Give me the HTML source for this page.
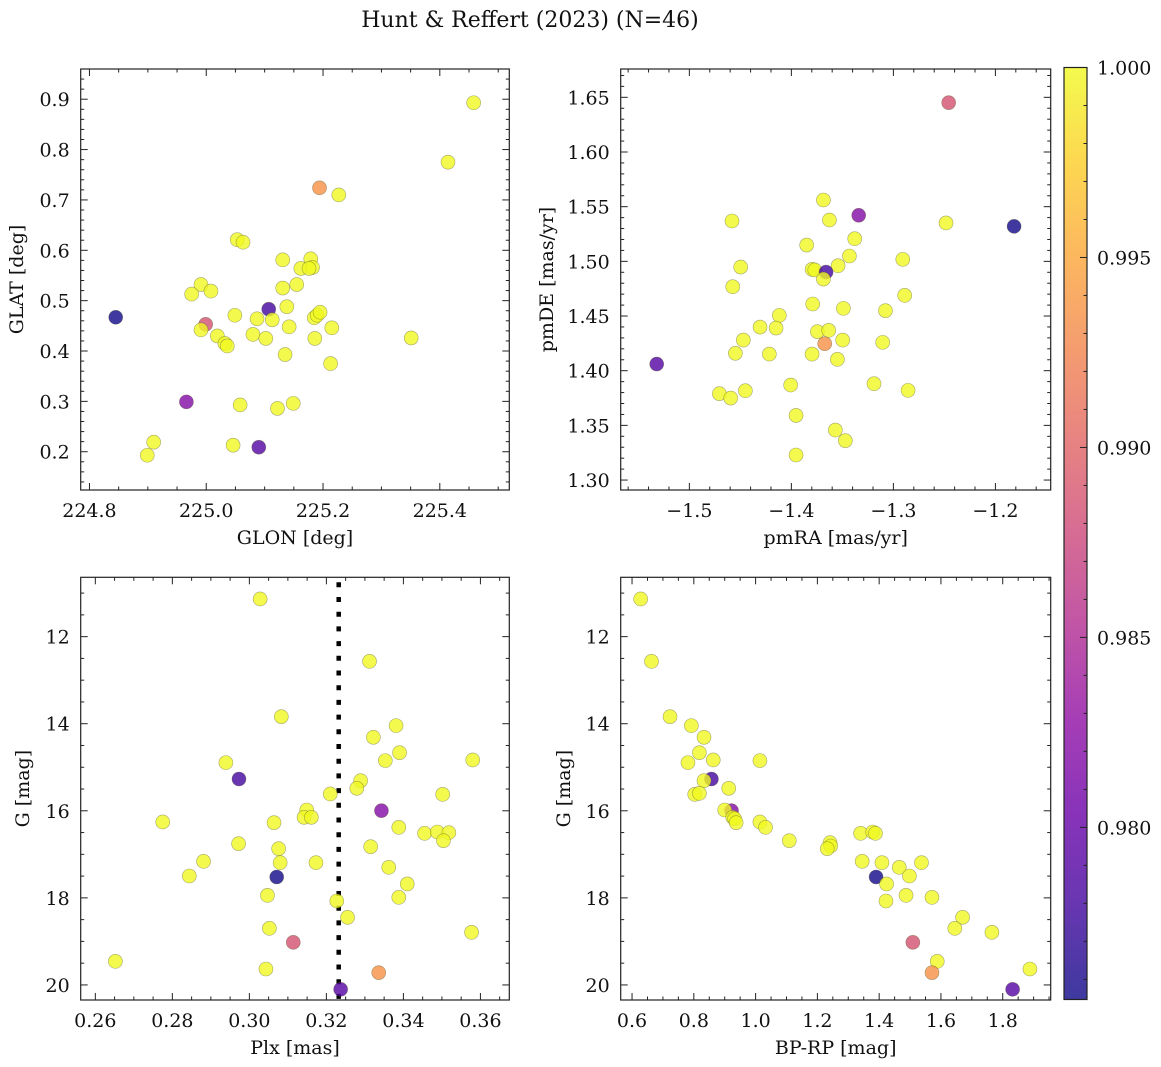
<!DOCTYPE html>
<html><head><meta charset="utf-8">
<style>
html,body{margin:0;padding:0;background:#fff;}
svg{display:block;font-family:"DejaVu Serif","Liberation Serif",serif;}
</style></head>
<body>
<svg id="fig" width="1161" height="1067" viewBox="0 0 1161 1067" xmlns="http://www.w3.org/2000/svg">
<rect width="1161" height="1067" fill="#fff"/>
<text x="530" y="27" font-size="22" text-anchor="middle" fill="#111">Hunt &amp; Reffert (2023) (N=46)</text>
</svg>
<script>
// ---------- data ----------
const glon = [225.458,225.414,225.194,225.227,225.053,225.063,225.131,225.179,225.162,225.182,225.176,224.991,224.975,225.008,225.131,225.155,224.845,225.107,225.138,224.999,225.049,225.087,225.113,225.185,225.190,225.195,224.991,225.019,225.032,225.036,225.080,225.102,225.142,225.186,225.215,225.351,225.135,225.213,224.966,225.058,225.122,225.149,224.910,224.899,225.046,225.090];
const glat = [0.893,0.775,0.724,0.710,0.621,0.616,0.581,0.583,0.564,0.566,0.564,0.532,0.513,0.519,0.525,0.532,0.467,0.483,0.488,0.453,0.471,0.464,0.462,0.466,0.471,0.477,0.442,0.430,0.415,0.410,0.433,0.425,0.448,0.425,0.446,0.426,0.393,0.375,0.299,0.293,0.286,0.296,0.219,0.193,0.213,0.209];
const probPos = [1,1,0.9935,1,1,1,1,1,1,1,1,1,1,1,1,1,0.9756,0.978,1,0.9885,1,1,1,1,1,1,1,1,1,1,1,1,1,1,1,1,1,1,0.982,1,1,1,1,1,1,0.979];

const pmra = [-1.2458,-1.3686,-1.4582,-1.3627,-1.3340,-1.2484,-1.1817,-1.3379,-1.3850,-1.3431,-1.2908,-1.4497,-1.3542,-1.3797,-1.3771,-1.3660,-1.3686,-1.4575,-1.2889,-1.3791,-1.3490,-1.3078,-1.4118,-1.4307,-1.4150,-1.3745,-1.3634,-1.4471,-1.3497,-1.3105,-1.3673,-1.4549,-1.4216,-1.3797,-1.3549,-1.5320,-1.4706,-1.4595,-1.4451,-1.4007,-1.3190,-1.2856,-1.3954,-1.3569,-1.3471,-1.3954];
const pmde = [1.6451,1.5561,1.5369,1.5378,1.5421,1.5351,1.5320,1.5207,1.5149,1.5049,1.5018,1.4948,1.4960,1.4927,1.4921,1.4902,1.4838,1.4768,1.4689,1.4610,1.4570,1.4549,1.4506,1.4399,1.4390,1.4357,1.4369,1.4280,1.4280,1.4259,1.4247,1.4159,1.4152,1.4152,1.4104,1.4061,1.3790,1.3750,1.3817,1.3869,1.3881,1.3820,1.3591,1.3457,1.3360,1.3229];
const probPm = [0.9885,1,1,1,0.982,1,0.9756,1,1,1,1,1,1,1,1,0.978,1,1,1,1,1,1,1,1,1,1,1,1,1,1,0.9935,1,1,1,1,0.979,1,1,1,1,1,1,1,1,1,1];

const plx = [0.3028,0.3312,0.3083,0.3381,0.3322,0.3390,0.2939,0.3353,0.3580,0.2973,0.3289,0.3279,0.3210,0.3502,0.3149,0.3142,0.3161,0.3343,0.2775,0.3064,0.3388,0.3455,0.3488,0.3518,0.3504,0.2972,0.3076,0.3315,0.2881,0.3080,0.3173,0.3362,0.2844,0.3071,0.3410,0.3047,0.3388,0.3227,0.3255,0.3052,0.3577,0.3114,0.2652,0.3043,0.3336,0.3237];
const gPlx = [11.135,12.567,13.838,14.044,14.312,14.665,14.894,14.848,14.833,15.270,15.308,15.484,15.614,15.622,15.982,16.150,16.150,15.997,16.257,16.273,16.380,16.518,16.487,16.502,16.686,16.755,16.870,16.824,17.161,17.191,17.191,17.299,17.498,17.521,17.681,17.942,17.988,18.072,18.447,18.700,18.792,19.021,19.458,19.634,19.718,20.101];
const probPlx = [1,1,1,1,1,1,1,1,1,0.978,1,1,1,1,1,1,1,0.982,1,1,1,1,1,1,1,1,1,1,1,1,1,1,1,0.9756,1,1,1,1,1,1,1,0.9885,1,1,0.9935,0.979];
const plxMean = [0.3232];

const bprp = [0.628,0.663,0.723,0.792,0.833,0.818,0.781,0.863,1.014,0.857,0.833,0.913,0.803,0.818,0.922,0.900,0.926,0.932,0.937,1.014,1.032,1.109,1.241,1.243,1.232,1.340,1.379,1.388,1.345,1.409,1.537,1.465,1.498,1.390,1.424,1.487,1.571,1.422,1.670,1.645,1.765,1.509,1.588,1.888,1.571,1.832];
const gCmd = [11.135,12.567,13.838,14.044,14.312,14.665,14.894,14.833,14.848,15.270,15.308,15.484,15.622,15.599,15.997,15.982,16.150,16.181,16.273,16.257,16.380,16.686,16.732,16.809,16.870,16.518,16.487,16.518,17.161,17.191,17.191,17.299,17.498,17.521,17.681,17.942,17.988,18.072,18.447,18.700,18.792,19.021,19.458,19.634,19.718,20.101];
const probCmd = [1,1,1,1,1,1,1,1,1,0.978,1,1,1,1,0.982,1,1,1,1,1,1,1,1,1,1,1,1,1,1,1,1,1,1,0.9756,1,1,1,1,1,1,1,0.9885,1,1,0.9935,0.979];

const xTicks1 = [224.8,225.0,225.2,225.4];
const yTicks1 = [0.2,0.3,0.4,0.5,0.6,0.7,0.8,0.9];
const xTicks2 = [-1.5,-1.4,-1.3,-1.2];
const yTicks2 = [1.30,1.35,1.40,1.45,1.50,1.55,1.60,1.65];
const xTicks3 = [0.26,0.28,0.30,0.32,0.34,0.36];
const yTicksG = [12,14,16,18,20];
const xTicks4 = [0.6,0.8,1.0,1.2,1.4,1.6,1.8];
const cbTicks = [0.980,0.985,0.990,0.995,1.000];
const cbMin = 0.97547, cbMax = 1.0;

// ---------- helpers ----------
const NS = "http://www.w3.org/2000/svg";
const svg = document.getElementById('fig');
const FS = 19;
function mk(tag, attrs, parent){
  const e = document.createElementNS(NS, tag);
  for (const k in attrs) e.setAttribute(k, attrs[k]);
  (parent||svg).appendChild(e); return e;
}
const plasma = ["#0d0887","#41049d","#6a00a8","#8f0da4","#b12a90","#cc4778","#e16462","#f2844b","#fca636","#fcce25","#f0f921"];
function hex(c){return [parseInt(c.slice(1,3),16),parseInt(c.slice(3,5),16),parseInt(c.slice(5,7),16)];}
function cmap(t){
  t=Math.max(0,Math.min(1,t)); const p=t*10, i=Math.min(9,Math.floor(p)), f=p-i;
  const a=hex(plasma[i]), b=hex(plasma[i+1]);
  return "rgb("+a.map((v,k)=>Math.round(v+(b[k]-v)*f)).join(",")+")";
}
function colorOf(p){return cmap((p-cbMin)/(cbMax-cbMin));}
function fmt(v,d){ const s=v.toFixed(d); return v<0 ? "\u2212"+s.slice(1) : s; }

function panel(cfg){
  const {name,L,T,R,B,xmin,xmax,ymin,ymax,yinv,xt,yt,xminor,yminor,xd,yd,xlab,ylab,ylabX,xs,ys,ps} = cfg;
  const g = mk('g',{});
  
  
  const sx = v => L + (v - xmin)/(xmax - xmin)*(R-L);
  const sy = v => yinv ? T + (v - ymin)/(ymax - ymin)*(B-T) : B - (v - ymin)/(ymax - ymin)*(B-T);
  const cid = name+"-clip";
  const cp = mk('clipPath',{id:cid},g); mk('rect',{x:L,y:T,width:R-L,height:B-T},cp);
  if (cfg.vline){
    const ln = mk('line',{x1:sx(cfg.vline[0]),x2:sx(cfg.vline[0]),y1:T+5,y2:B,stroke:"#000","stroke-width":4.5,"stroke-dasharray":"5 9.7"},g);
    
    
  }
  const pts = mk('g',{"clip-path":"url(#"+cid+")"},g);
  for (let i=0;i<xs.length;i++){
    const c = mk('circle',{cx:sx(xs[i]),cy:sy(ys[i]),r:7,fill:colorOf(ps[i]),"fill-opacity":0.8,stroke:"#55552a","stroke-opacity":0.5,"stroke-width":0.6},pts);
    
    
  }
  mk('rect',{x:L,y:T,width:R-L,height:B-T,fill:"none",stroke:"#222","stroke-width":1.2},g);
  const tk = mk('g',{stroke:"#222","stroke-width":1},g);
  const eps=1e-9;
  for (let v=Math.ceil(xmin/xminor-eps)*xminor; v<=xmax+eps; v+=xminor){
    const X=sx(v); const major = xt.some(t=>Math.abs(t-v)<xminor/10);
    const len = major?7:3.5;
    mk('line',{x1:X,x2:X,y1:B,y2:B-len},tk); mk('line',{x1:X,x2:X,y1:T,y2:T+len},tk);
  }
  const y0=Math.min(ymin,ymax), y1=Math.max(ymin,ymax);
  for (let v=Math.ceil(y0/yminor-eps)*yminor; v<=y1+eps; v+=yminor){
    const Y=sy(v); const major = yt.some(t=>Math.abs(t-v)<yminor/10);
    const len = major?7:3.5;
    mk('line',{x1:L,x2:L+len,y1:Y,y2:Y},tk); mk('line',{x1:R,x2:R-len,y1:Y,y2:Y},tk);
  }
  xt.forEach(v=>{
    const t=mk('text',{x:sx(v),y:B+27,"font-size":FS,"text-anchor":"middle",fill:"#111"},g);
    t.textContent=fmt(v,xd);
    
    
  });
  yt.forEach(v=>{
    const t=mk('text',{x:L-11,y:sy(v)+7,"font-size":FS,"text-anchor":"end",fill:"#111"},g);
    t.textContent=fmt(v,yd);
    
    
  });
  const xl=mk('text',{x:(L+R)/2,y:B+54,"font-size":FS,"text-anchor":"middle",fill:"#111"},g);
  xl.textContent=xlab;
  
  
  const yc=(T+B)/2;
  const yl=mk('text',{x:ylabX,y:yc,"font-size":FS,"text-anchor":"middle",fill:"#111",transform:"rotate(-90 "+ylabX+" "+yc+")"},g);
  yl.textContent=ylab;
  
  
}

panel({name:"glon-glat-panel",L:80.7,T:69,R:509.3,B:490,xmin:224.785,xmax:225.519,ymin:0.124,ymax:0.960,yinv:false,
  xt:xTicks1,yt:yTicks1,xminor:0.05,yminor:0.02,xd:1,yd:1,xlab:"GLON [deg]",ylab:"GLAT [deg]",ylabX:23,xs:glon,ys:glat,ps:probPos});
panel({name:"proper-motion-panel",L:620.7,T:69,R:1050.7,B:490,xmin:-1.5673,xmax:-1.1458,ymin:1.2909,ymax:1.6759,yinv:false,
  xt:xTicks2,yt:yTicks2,xminor:0.02,yminor:0.01,xd:1,yd:2,xlab:"pmRA [mas/yr]",ylab:"pmDE [mas/yr]",ylabX:553,xs:pmra,ys:pmde,ps:probPm});
panel({name:"parallax-panel",L:80.7,T:577.3,R:509.3,B:1000,xmin:0.2562,xmax:0.3675,ymin:10.637,ymax:20.346,yinv:true,
  xt:xTicks3,yt:yTicksG,xminor:0.005,yminor:0.5,xd:2,yd:0,xlab:"Plx [mas]",ylab:"G [mag]",ylabX:29,xs:plx,ys:gPlx,ps:probPlx,vline:plxMean});
panel({name:"cmd-panel",L:620.7,T:577.3,R:1050.7,B:1000,xmin:0.5633,xmax:1.9553,ymin:10.637,ymax:20.346,yinv:true,
  xt:xTicks4,yt:yTicksG,xminor:0.05,yminor:0.5,xd:1,yd:0,xlab:"BP-RP [mag]",ylab:"G [mag]",ylabX:570,xs:bprp,ys:gCmd,ps:probCmd});

// ---------- colorbar ----------
(function(){
  const L=1064,R=1087,T=67.5,B=999.5;
  const g=mk('g',{});
  
  
  const defs=mk('defs',{},g);
  const lg=mk('linearGradient',{id:"cbgrad",x1:0,y1:1,x2:0,y2:0},defs);
  for(let i=0;i<=20;i++){ mk('stop',{offset:i/20,"stop-color":cmap(i/20)},lg); }
  mk('rect',{x:L,y:T,width:R-L,height:B-T,fill:"url(#cbgrad)","fill-opacity":0.8},g);
  mk('rect',{x:L,y:T,width:R-L,height:B-T,fill:"none",stroke:"#222","stroke-width":1.2},g);
  const sy=v=>B-(v-cbMin)/(cbMax-cbMin)*(B-T);
  const tk=mk('g',{stroke:"#222","stroke-width":1},g);
  for(let v=0.976; v<=1.00001; v+=0.001){
    const Y=sy(v); const major=cbTicks.some(t=>Math.abs(t-v)<1e-4);
    mk('line',{x1:R,x2:R-(major?7:3.5),y1:Y,y2:Y},tk);
  }
  cbTicks.forEach(v=>{
    const t=mk('text',{x:R+10,y:sy(v)+7,"font-size":FS,fill:"#111"},g);
    t.textContent=v.toFixed(3);
    
    
  });
})();
</script>
</body></html>
